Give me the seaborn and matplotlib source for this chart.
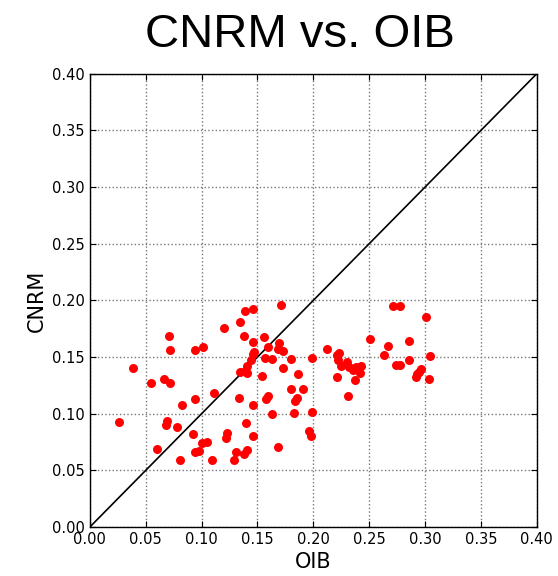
import numpy as np
import pandas as pd
import matplotlib
matplotlib.use('Agg')
import matplotlib.pyplot as plt
import seaborn as sns

# values
oib = [0.026, 0.039, 0.055, 0.0666, 0.0716, 0.0707, 0.0716, 0.069, 0.068, 0.0605,
       0.078, 0.081, 0.0824, 0.092, 0.094, 0.094, 0.094, 0.098, 0.100, 0.1016,
       0.105, 0.1097, 0.111, 0.120, 0.122, 0.123, 0.1286, 0.131, 0.1337, 0.134,
       0.138, 0.134, 0.1376, 0.139, 0.139, 0.140, 0.141, 0.141, 0.141, 0.144,
       0.146, 0.146, 0.147, 0.146, 0.1457, 0.146, 0.154, 0.156, 0.157, 0.1577,
       0.159, 0.159, 0.163, 0.163, 0.168, 0.169, 0.168, 0.171, 0.173, 0.173,
       0.180, 0.180, 0.1855, 0.184, 0.183, 0.186, 0.191, 0.196, 0.198, 0.1987,
       0.199, 0.212, 0.221, 0.223, 0.222, 0.2245, 0.221, 0.2305, 0.232, 0.2353,
       0.238, 0.243, 0.2416, 0.237, 0.2314, 0.2506, 0.263, 0.2665, 0.271, 0.2776,
       0.274, 0.278, 0.2853, 0.2857, 0.292, 0.293, 0.2947, 0.296, 0.301, 0.304,
       0.3033]
cnrm = [0.093, 0.140, 0.127, 0.131, 0.127, 0.169, 0.1565, 0.0935, 0.090, 0.069,
        0.088, 0.059, 0.108, 0.082, 0.1127, 0.1565, 0.0665, 0.067, 0.074, 0.159,
        0.0747, 0.059, 0.1185, 0.176, 0.079, 0.083, 0.059, 0.066, 0.114, 0.181,
        0.0644, 0.1365, 0.169, 0.138, 0.191, 0.092, 0.0677, 0.142, 0.136, 0.147,
        0.192, 0.163, 0.1547, 0.153, 0.1074, 0.080, 0.133, 0.168, 0.149, 0.113,
        0.1156, 0.159, 0.148, 0.100, 0.071, 0.162, 0.157, 0.196, 0.1556, 0.140,
        0.148, 0.122, 0.114, 0.111, 0.1006, 0.135, 0.122, 0.085, 0.080, 0.149,
        0.1015, 0.157, 0.152, 0.154, 0.147, 0.1418, 0.132, 0.1456, 0.1415, 0.1386,
        0.1415, 0.142, 0.1357, 0.130, 0.116, 0.166, 0.1515, 0.160, 0.195, 0.195,
        0.143, 0.143, 0.164, 0.147, 0.1327, 0.135, 0.137, 0.1395, 0.185, 0.1506,
        0.131]
ticks = [0.00, 0.05, 0.10, 0.15, 0.20, 0.25, 0.30, 0.35, 0.40]

df = pd.DataFrame({'OIB': oib, 'CNRM': cnrm})

sns.set_style('ticks')
plt.rcParams['font.family'] = ['DejaVu Sans']
plt.rcParams['text.color'] = 'black'
plt.rcParams['axes.labelcolor'] = 'black'

fig = plt.figure(figsize=(5.58, 5.76), dpi=100)
ax = fig.add_axes([0.161, 0.085, 0.801, 0.787])

sns.scatterplot(data=df, x='OIB', y='CNRM', color='red', s=42,
                linewidth=0, ax=ax, zorder=3)
ax.plot([0, 0.4], [0, 0.4], color='black', linewidth=1.2, zorder=2)

ax.set_xlim(0, 0.4)
ax.set_ylim(0, 0.4)
ax.set_xticks(ticks)
ax.set_yticks(ticks)
ax.set_xticklabels([f'{t:.2f}' for t in ticks])
ax.set_yticklabels([f'{t:.2f}' for t in ticks])
ax.tick_params(direction='in', top=True, right=True, labelsize=10.5,
               length=4, color='black', labelcolor='black')
ax.grid(True, linestyle=':', color='#777777', linewidth=1)
for sp in ax.spines.values():
    sp.set_color('black')
    sp.set_linewidth(1)

ax.set_xlabel('OIB', fontsize=15, labelpad=4, color='black')
ax.set_ylabel('CNRM', fontsize=15, labelpad=4, color='black')
fig.text(0.538, 0.94, 'CNRM vs. OIB', ha='center', va='center',
         fontsize=34, family='Liberation Sans', color='black')

fig.savefig('out.png', dpi=100)
